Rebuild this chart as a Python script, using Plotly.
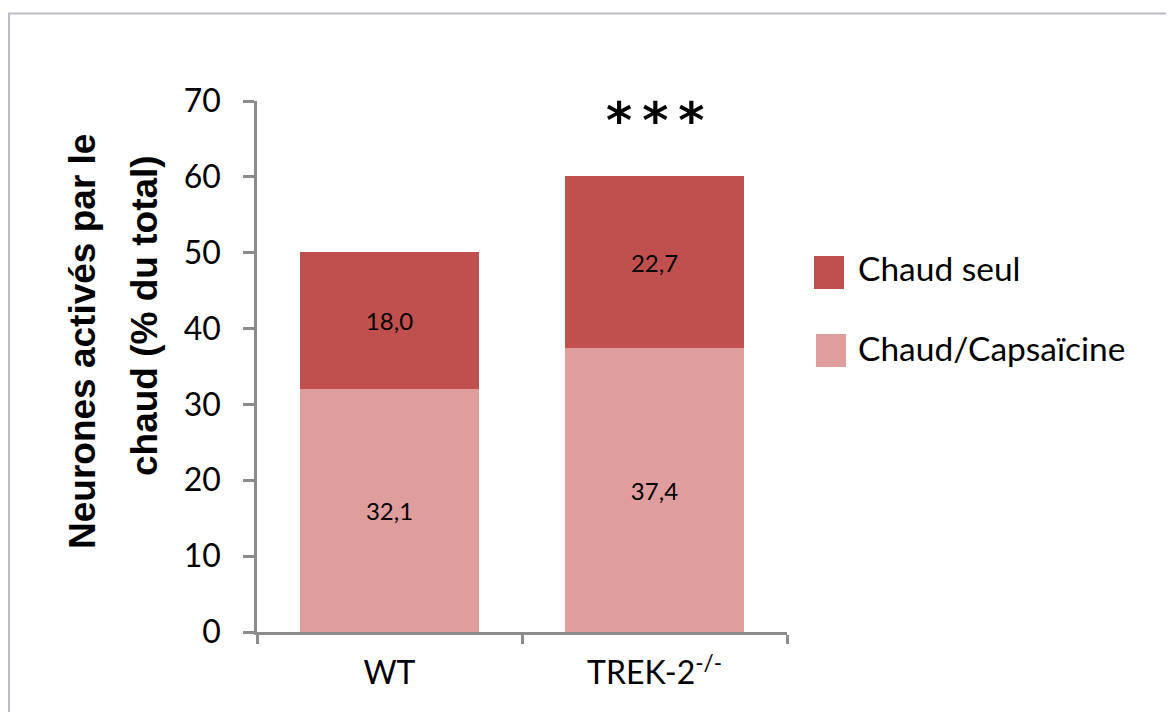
import plotly.graph_objects as go

categories = ["WT", "TREK-2<sup>-/-</sup>"]
chaud_capsaicine = [32.1, 37.4]
chaud_seul = [18.0, 22.7]
series_names = ["Chaud/Capsaïcine", "Chaud seul"]
y_title_lines = ["Neurones activés par le", "chaud (% du total)"]
y_ticks = [0, 10, 20, 30, 40, 50, 60, 70]
significance = "*\u2009*\u2009*"

COL_LIGHT = "#E09D9E"
COL_DARK = "#C0504D"
AX = "#8C8C8C"
FONT = "Lato"

OFF = 8  # page body margin
W, H = 1158, 704
L, T = 249, 93
pw, ph = 530, 531
R, B = W - L - pw, H - T - ph


def xp(px):
    return (px - OFF - L) / pw


def yp(py):
    return (H - B - (py - OFF)) / ph


fig = go.Figure()
for name, vals, col in [(series_names[0], chaud_capsaicine, COL_LIGHT),
                        (series_names[1], chaud_seul, COL_DARK)]:
    fig.add_trace(go.Bar(
        x=categories, y=vals, name=name, marker=dict(color=col, line=dict(width=0)),
        texttemplate="%{y:.1f}", textposition="inside", insidetextanchor="middle",
        textangle=0, constraintext="none",
        textfont=dict(family=FONT, size=24, color="black"), showlegend=False,
    ))

fig.update_layout(
    width=W, height=H, barmode="stack", bargap=0.325,
    margin=dict(l=L, r=R, t=T, b=B),
    paper_bgcolor="white", plot_bgcolor="white",
    separators=",.",
    font=dict(family=FONT, size=32, color="black"),
    showlegend=False,
)
fig.update_yaxes(
    range=[0, 70], tickvals=y_ticks, showgrid=False, zeroline=False,
    showline=True, linecolor=AX, linewidth=2.5,
    ticks="outside", ticklen=11, tickcolor=AX, tickwidth=2.5,
    ticklabelstandoff=16, tickfont=dict(family=FONT, size=32),
)
fig.update_xaxes(
    showgrid=False, zeroline=False, showline=True, linecolor=AX, linewidth=2.5,
    ticks="outside", tickson="boundaries", ticklen=9, tickcolor=AX, tickwidth=2.5,
    ticklabelstandoff=11, tickfont=dict(family=FONT, size=32),
)

# y-axis title (two lines)
fig.add_annotation(text="<b>" + y_title_lines[0] + "</b>", xref="paper", yref="paper",
                   x=xp(82), y=yp(342), textangle=-90, showarrow=False,
                   xanchor="center", yanchor="middle",
                   font=dict(family="Liberation Sans", size=37, color="black"))
fig.add_annotation(text="<b>" + y_title_lines[1] + "</b>", xref="paper", yref="paper",
                   x=xp(144), y=yp(316), textangle=-90, showarrow=False,
                   xanchor="center", yanchor="middle",
                   font=dict(family="Liberation Sans", size=37, color="black"))

# significance marker
fig.add_annotation(text="<b>" + significance + "</b>", xref="x", yref="y",
                   x=categories[1], y=67.4,
                   showarrow=False, xanchor="center", yanchor="middle",
                   font=dict(family="DejaVu Sans", size=50, color="black"))

# legend (custom)
legend_items = [(series_names[1], COL_DARK, 256, 289, 814, 268),
                (series_names[0], COL_LIGHT, 334, 367, 816, 348)]
for name, col, top, bot, left, cy in legend_items:
    fig.add_shape(type="rect", xref="paper", yref="paper",
                  x0=xp(left), x1=xp(left + 30), y0=yp(bot), y1=yp(top),
                  fillcolor=col, line=dict(width=0))
    fig.add_annotation(text=name, xref="paper", yref="paper", x=xp(856), y=yp(cy),
                       showarrow=False, xanchor="left", yanchor="middle",
                       font=dict(family=FONT, size=33.5, color="black"))

# outer border
fig.add_shape(type="rect", xref="paper", yref="paper",
              x0=xp(9), x1=xp(1190), y0=yp(740), y1=yp(13.5),
              line=dict(color="#BEBCC8", width=2), fillcolor="rgba(0,0,0,0)", layer="below")

fig.write_html("out.html")
